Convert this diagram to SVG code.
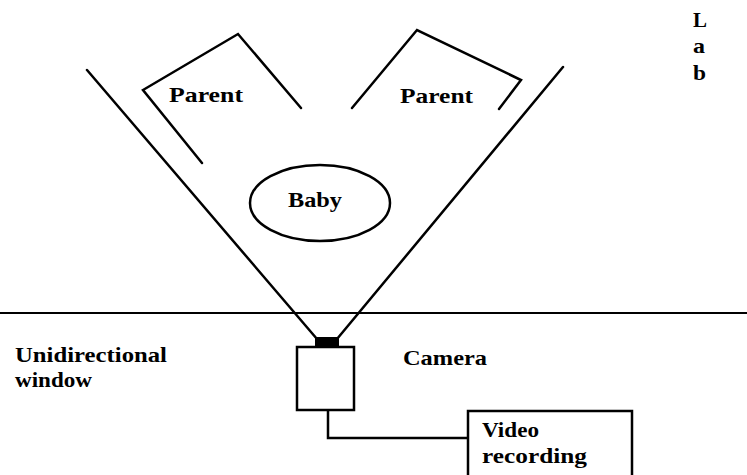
<svg xmlns="http://www.w3.org/2000/svg" width="747" height="475" viewBox="0 0 747 475">
<style>
  .ln { fill: none; stroke: #000; stroke-width: 2.5; stroke-linecap: round; stroke-linejoin: miter; }
  .t { font-family: "Liberation Serif", "Times New Roman", serif; font-weight: bold; font-size: 21px; fill: #000; }
</style>
<rect x="0" y="0" width="747" height="475" fill="#fff"/>
<g id="connectors">
  <line class="ln" x1="87" y1="70" x2="317" y2="339" stroke-width="3"/>
  <line class="ln" x1="563" y1="67" x2="337" y2="339" stroke-width="3"/>
  <polyline class="ln" points="328,410 328,438 468,438"/>
</g>
<g id="window">
  <line x1="0" y1="313" x2="747" y2="313" stroke="#000" stroke-width="2"/>
  <text class="t" x="15" y="362" textLength="152" lengthAdjust="spacingAndGlyphs">Unidirectional</text>
  <text class="t" x="15" y="387" textLength="77" lengthAdjust="spacingAndGlyphs">window</text>
</g>
<g id="lab">
  <text class="t" x="693" y="27" textLength="14" lengthAdjust="spacingAndGlyphs">L</text>
  <text class="t" x="693" y="53" textLength="12" lengthAdjust="spacingAndGlyphs">a</text>
  <text class="t" x="693" y="80" textLength="13" lengthAdjust="spacingAndGlyphs">b</text>
</g>
<g id="parent-left">
  <polyline class="ln" points="202,163 143,90 238,34 301,108"/>
  <text class="t" x="169" y="102" textLength="74" lengthAdjust="spacingAndGlyphs">Parent</text>
</g>
<g id="parent-right">
  <polyline class="ln" points="352,108 417,30 521,80 499,109"/>
  <text class="t" x="400" y="103" textLength="73" lengthAdjust="spacingAndGlyphs">Parent</text>
</g>
<g id="baby">
  <ellipse cx="320" cy="203" rx="70" ry="38" fill="none" stroke="#000" stroke-width="2.5"/>
  <text class="t" x="288" y="207" textLength="54" lengthAdjust="spacingAndGlyphs">Baby</text>
</g>
<g id="camera">
  <rect x="315" y="337" width="24" height="10" fill="#000"/>
  <rect x="297" y="347" width="57" height="63" fill="#fff" stroke="#000" stroke-width="2.5"/>
  <text class="t" x="403" y="365" textLength="84" lengthAdjust="spacingAndGlyphs">Camera</text>
</g>
<g id="video-recording">
  <rect x="468" y="411" width="164" height="80" fill="#fff" stroke="#000" stroke-width="2.5"/>
  <text class="t" x="482" y="437" textLength="57" lengthAdjust="spacingAndGlyphs">Video</text>
  <text class="t" x="482" y="463" textLength="105" lengthAdjust="spacingAndGlyphs">recording</text>
</g>
</svg>
